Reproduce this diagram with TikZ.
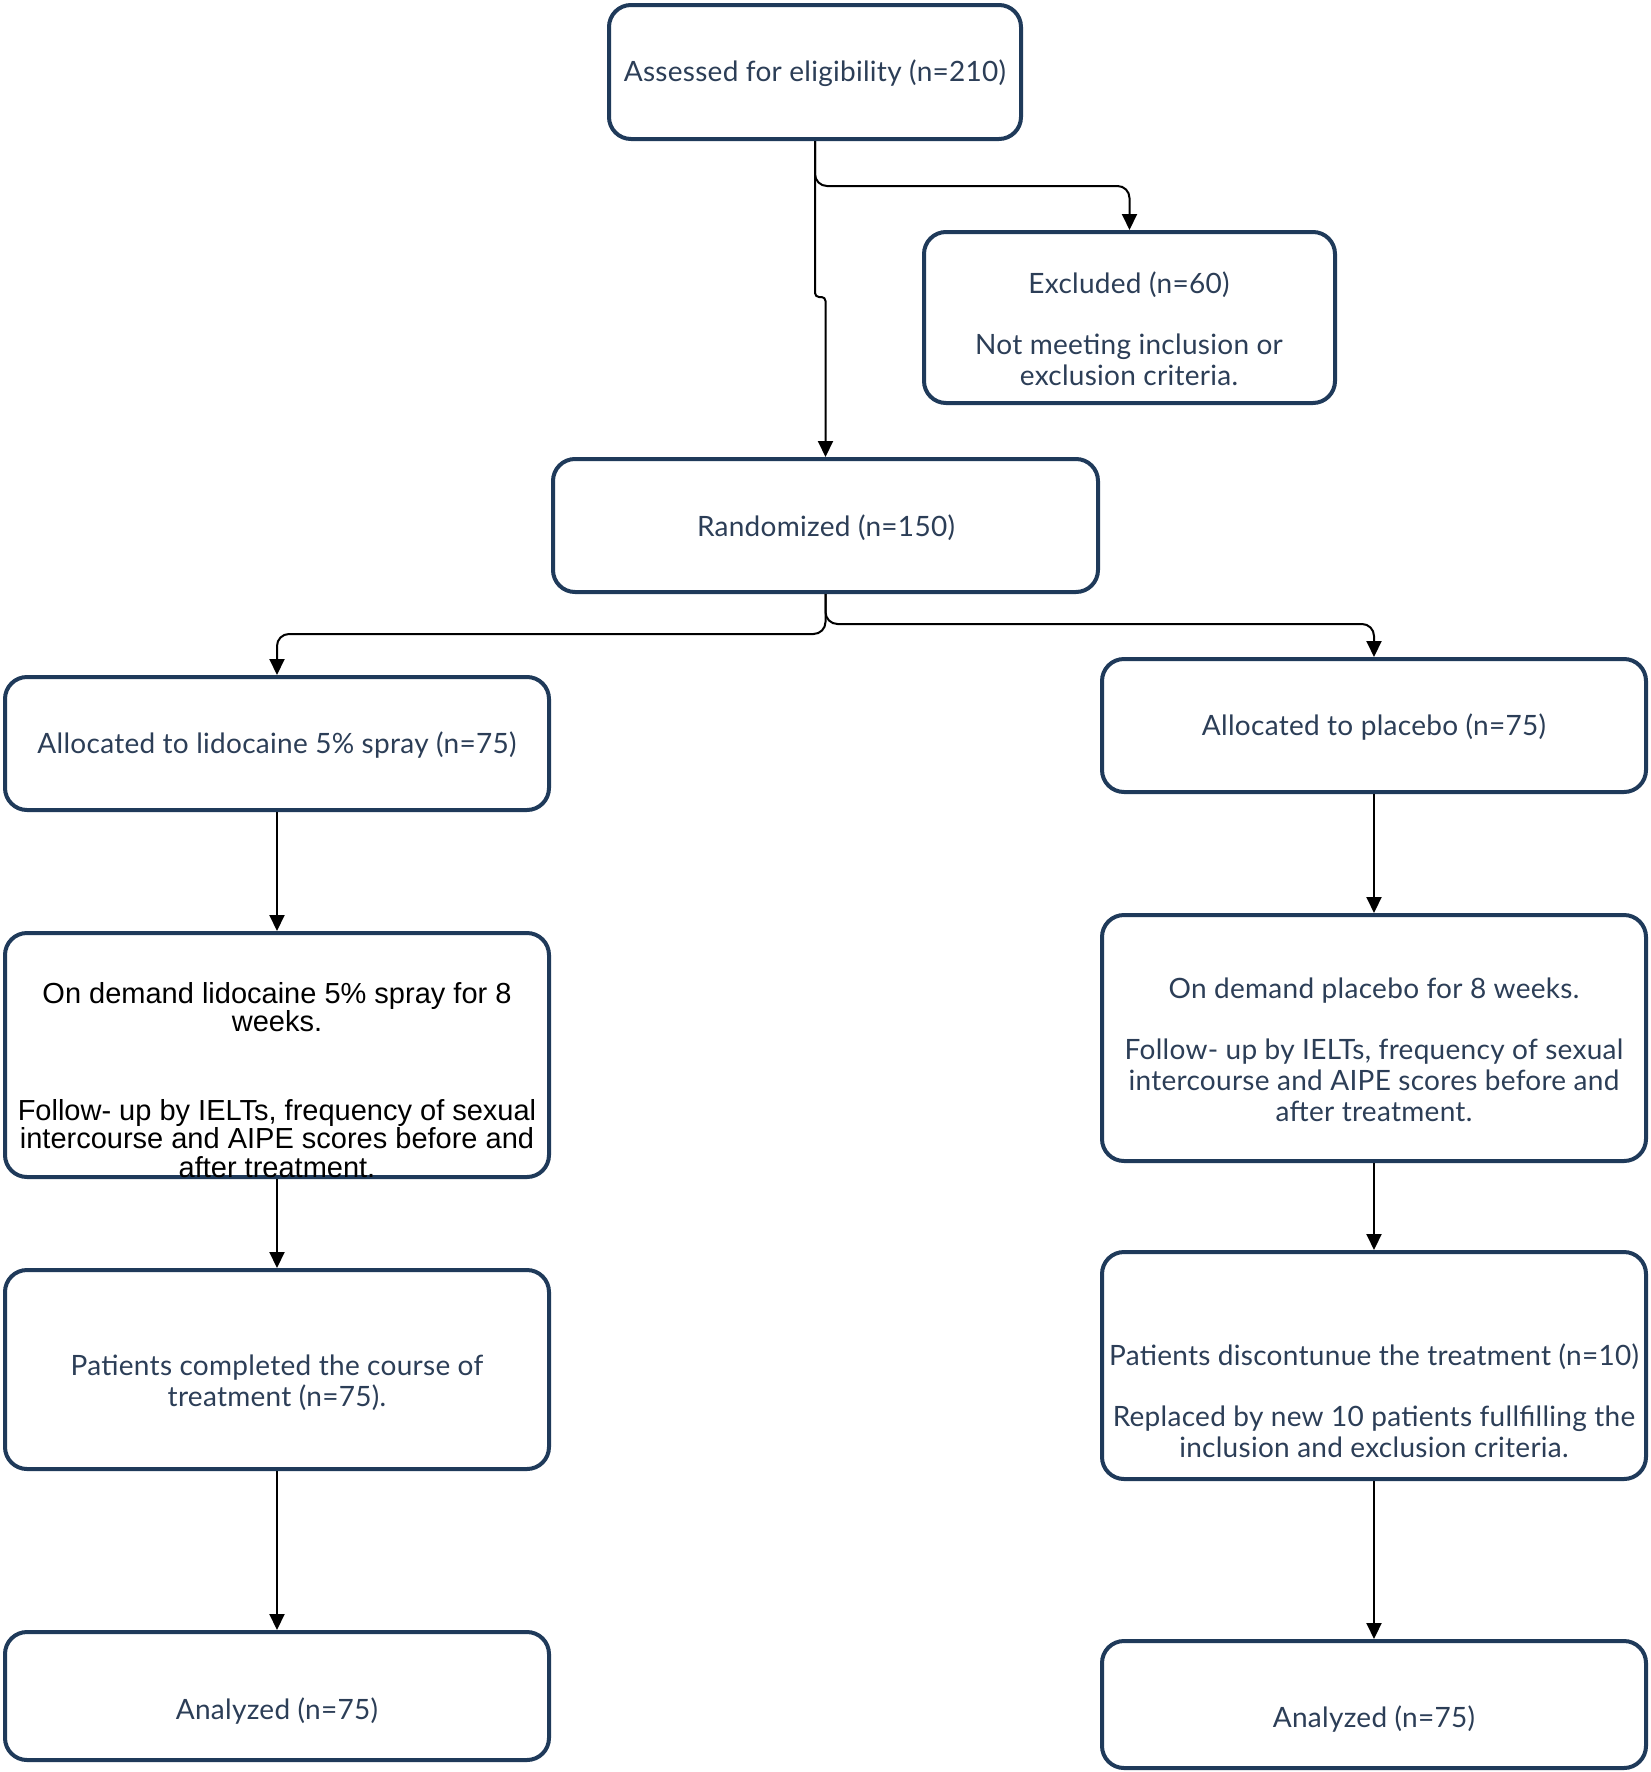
\documentclass[tikz,border=0pt]{standalone}
\usepackage{fontspec}
\setmainfont[LetterSpace=1]{Lato}
\newfontfamily\arialfont{Liberation Sans}
\usetikzlibrary{arrows.meta}
\definecolor{boxborder}{HTML}{1F3A5A}
\definecolor{boxtext}{HTML}{2C3E57}
\tikzset{
  flowbox/.style={draw=boxborder, line width=4pt, rounded corners=22pt, fill=white, inner sep=0pt},
  txt/.style={text=boxtext, align=center, inner sep=0pt, font=\fontsize{28}{31}\selectfont},
  blacktxt/.style={text=black, align=center, inner sep=0pt, font=\arialfont\fontsize{29}{28.5}\selectfont},
  conn/.style={draw=black, line width=2pt, -{Triangle[length=16pt,width=15pt]}},
}
\begin{document}
\begin{tikzpicture}[x=1pt,y=-1pt]
\useasboundingbox (0,0) rectangle (1650,1772);
% boxes
\node[flowbox, minimum width=412pt, minimum height=134pt] (top) at (815,72) {};
\node[flowbox, minimum width=411pt, minimum height=171pt] (excl) at (1129.5,317.5) {};
\node[flowbox, minimum width=545pt, minimum height=133pt] (rand) at (825.5,525.5) {};
\node[flowbox, minimum width=544pt, minimum height=133pt] (lalloc) at (277,743.5) {};
\node[flowbox, minimum width=544pt, minimum height=133pt] (palloc) at (1374,725.5) {};
\node[flowbox, minimum width=544pt, minimum height=244pt] (ldem) at (277,1055) {};
\node[flowbox, minimum width=544pt, minimum height=246pt] (pdem) at (1374,1038) {};
\node[flowbox, minimum width=544pt, minimum height=199pt] (lcomp) at (277,1369.5) {};
\node[flowbox, minimum width=544pt, minimum height=227pt] (pdisc) at (1374,1365.5) {};
\node[flowbox, minimum width=544pt, minimum height=128pt] (lan) at (277,1696) {};
\node[flowbox, minimum width=544pt, minimum height=127pt] (pan) at (1374,1704.5) {};
% texts
\node[txt] (ttop) at (815,73) {Assessed for eligibility (n=210)};
\node[txt] (texcl) at (1129,329) {Excluded (n=60)\\[30pt]Not meeting inclusion or\\exclusion criteria.};
\node[txt] (trand) at (826,528) {Randomized (n=150)};
\node[txt] (tlalloc) at (277,745) {Allocated to lidocaine 5\% spray (n=75)};
\node[txt] (tpalloc) at (1374,727) {Allocated to placebo (n=75)};
\node[blacktxt] (tldem) at (277,1080) {On demand lidocaine 5\% spray for 8\\weeks.\\[60pt]Follow- up by IELTs, frequency of sexual\\intercourse and AIPE scores before and\\after treatment.};
\node[txt] (tpdem) at (1374,1050) {On demand placebo for 8 weeks.\\[30pt]Follow- up by IELTs, frequency of sexual\\intercourse and AIPE scores before and\\after treatment.};
\node[txt] (tlcomp) at (277,1383) {Patients completed the course of\\treatment (n=75).};
\node[txt] (tpdisc) at (1374,1401) {Patients discontunue the treatment (n=10)\\[30pt]Replaced by new 10 patients fullfilling the\\inclusion and exclusion criteria.};
\node[txt] (tlan) at (277,1711) {Analyzed (n=75)};
\node[txt] (tpan) at (1374,1719) {Analyzed (n=75)};
% connectors
\draw[conn, rounded corners=12pt] (top.south) -- ++(0,45) -| (excl.north);
\draw[conn, rounded corners=4pt] (top.south) -- ++(0,156) -| (rand.north);
\draw[conn, rounded corners=12pt] (rand.south) -- ++(0,40) -| (lalloc.north);
\draw[conn, rounded corners=12pt] (rand.south) -- ++(0,30) -| (palloc.north);
\draw[conn] (lalloc.south) -- (ldem.north);
\draw[conn] (palloc.south) -- (pdem.north);
\draw[conn] (ldem.south) -- (lcomp.north);
\draw[conn] (pdem.south) -- (pdisc.north);
\draw[conn] (lcomp.south) -- (lan.north);
\draw[conn] (pdisc.south) -- (pan.north);
\end{tikzpicture}
\end{document}
